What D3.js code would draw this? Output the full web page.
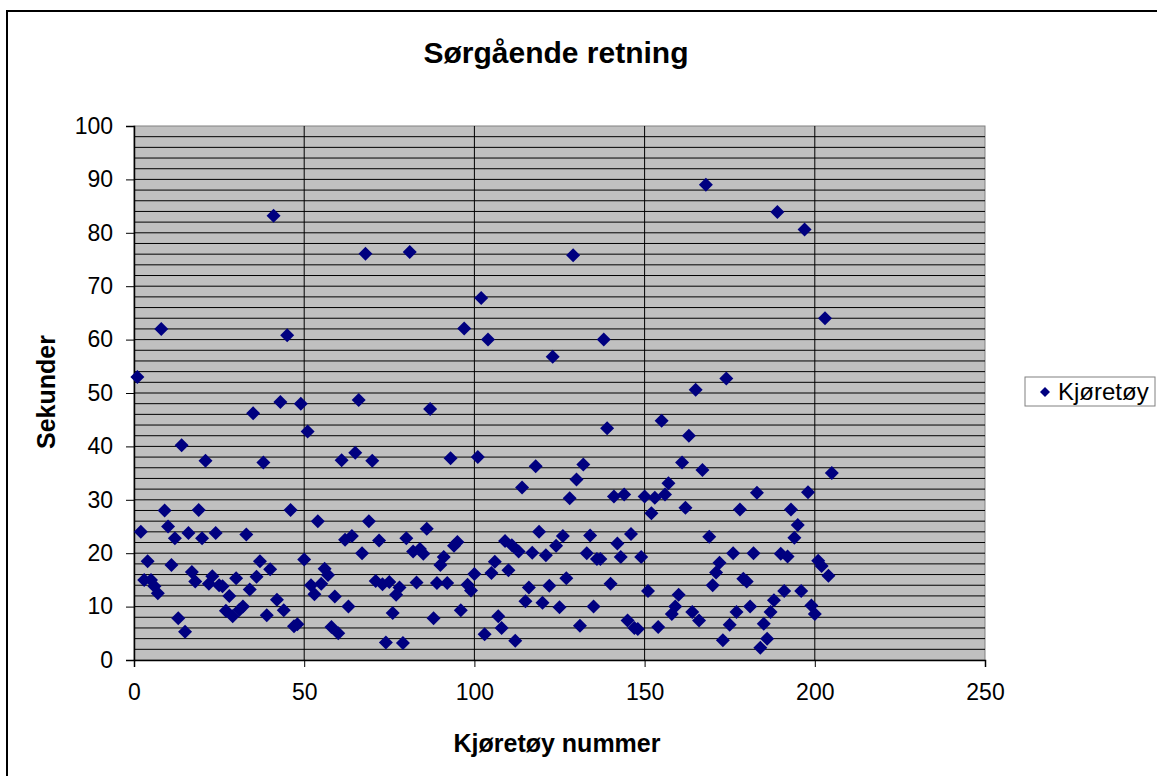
<!DOCTYPE html>
<html>
<head>
<meta charset="utf-8">
<script src="https://cdn.jsdelivr.net/npm/d3@7"></script>
<style>
  body { margin: 0; background: #fff; }
  text { font-family: Arial, "Liberation Sans", sans-serif; }
</style>
</head>
<body>
<div class="canvas"></div>
<script>
// seconds per vehicle, vehicle number = position in list (1..205)
const sekunder = [
  53, 24, 15, 18.5, 15, 13.8, 12.5, 62, 28, 25,
  17.8, 22.8, 7.8, 40.2, 5.3, 23.8, 16.5, 14.7, 28.1, 22.8,
  37.3, 14.3, 15.7, 23.8, 14, 13.8, 9.2, 12, 8.2, 15.3,
  9.4, 10, 23.5, 13.2, 46.2, 15.6, 18.5, 37, 8.4, 17,
  83.2, 11.3, 48.3, 9.3, 60.8, 28.1, 6.3, 6.7, 48, 18.8,
  42.8, 14, 12.3, 26, 14.3, 17.1, 15.9, 6.2, 11.9, 5,
  37.4, 22.5, 10, 23.2, 38.8, 48.7, 20, 76.1, 26, 37.3,
  14.8, 22.4, 14.2, 3.3, 14.6, 8.8, 12.2, 13.6, 3.2, 22.8,
  76.4, 20.3, 14.5, 20.8, 19.9, 24.6, 47, 7.8, 14.4, 17.8,
  19.3, 14.4, 37.8, 21.4, 22.1, 9.3, 62.1, 14.1, 13, 16.1,
  38, 67.8, 4.8, 60, 16.3, 18.4, 8.2, 6, 22.3, 16.8,
  21.5, 3.6, 20.3, 32.3, 11, 13.6, 20.1, 36.3, 24, 10.7,
  19.6, 13.9, 56.8, 21.4, 9.9, 23.2, 15.3, 30.3, 75.8, 33.8,
  6.4, 36.6, 20, 23.3, 10, 18.9, 18.9, 60, 43.4, 14.3,
  30.6, 21.8, 19.3, 31, 7.4, 23.6, 6, 5.8, 19.3, 30.6,
  12.9, 27.5, 30.4, 6.2, 44.8, 31, 33.1, 8.6, 10, 12.2,
  37, 28.5, 42, 9, 50.6, 7.4, 35.6, 89, 23.1, 14,
  16.4, 18.2, 3.7, 52.7, 6.6, 20, 9, 28.2, 15.2, 14.7,
  10, 20, 31.3, 2.3, 6.8, 4, 9, 11.2, 83.9, 19.9,
  12.9, 19.4, 28.2, 22.9, 25.3, 12.9, 80.6, 31.4, 10.2, 8.6,
  18.6, 17.6, 64, 15.8, 35
];
const xTicks = [0, 50, 100, 150, 200, 250];
const yTicks = [0, 10, 20, 30, 40, 50, 60, 70, 80, 90, 100];
const yMinor = d3.range(0, 101, 2);

const data = sekunder.map((v, i) => ({ nr: i + 1, sek: v }));

const W = 1157, H = 776;
const svg = d3.select('.canvas')
  .append('svg')
  .attr('width', W)
  .attr('height', H);

// chart border (right/bottom edges fall outside the picture)
svg.append('rect')
  .attr('x', 7).attr('y', 11)
  .attr('width', 1170).attr('height', 790)
  .attr('fill', 'none')
  .attr('stroke', '#000')
  .attr('stroke-width', 2);

const x = d3.scaleLinear().domain([0, 250]).range([134, 985]);
const y = d3.scaleLinear().domain([0, 100]).range([660, 126]);

// plot area
svg.append('rect')
  .attr('x', x(0)).attr('y', y(100))
  .attr('width', x(250) - x(0)).attr('height', y(0) - y(100))
  .attr('fill', '#c0c0c0')
  .attr('stroke', '#808080')
  .attr('stroke-width', 1);

// horizontal gridlines
svg.append('g')
  .selectAll('line')
  .data(yMinor.filter(d => d > 0 && d < 100))
  .enter().append('line')
  .attr('x1', x(0)).attr('x2', x(250))
  .attr('y1', d => y(d)).attr('y2', d => y(d))
  .attr('stroke', '#000')
  .attr('stroke-width', 1);

// vertical gridlines
svg.append('g')
  .selectAll('line')
  .data(xTicks.filter(d => d > 0 && d < 250))
  .enter().append('line')
  .attr('x1', d => x(d)).attr('x2', d => x(d))
  .attr('y1', y(0)).attr('y2', y(100))
  .attr('stroke', '#000')
  .attr('stroke-width', 1);

// axes
const yAxis = svg.append('g')
  .attr('transform', `translate(${x(0)},0)`)
  .call(d3.axisLeft(y).tickValues(yTicks).tickSize(8).tickPadding(13));
const xAxis = svg.append('g')
  .attr('transform', `translate(0,${y(0)})`)
  .call(d3.axisBottom(x).tickValues(xTicks).tickSize(7).tickPadding(17));

[yAxis, xAxis].forEach(g => {
  g.select('.domain').attr('stroke', '#000').attr('stroke-width', 1.5);
  g.selectAll('.tick line').attr('stroke', '#000');
  g.selectAll('.tick text')
    .attr('font-size', 23)
    .attr('fill', '#000')
    .style('font-family', 'Arial, "Liberation Sans", sans-serif');
});

// points
const diamond = 'M0,-7L7,0L0,7L-7,0Z';
svg.append('g')
  .selectAll('path')
  .data(data)
  .enter().append('path')
  .attr('d', diamond)
  .attr('transform', d => `translate(${x(d.nr)},${y(d.sek)})`)
  .attr('fill', '#000080');

// titles
svg.append('text')
  .attr('x', 556).attr('y', 63)
  .attr('text-anchor', 'middle')
  .attr('font-size', 30)
  .attr('font-weight', 'bold')
  .text('Sørgående retning');

svg.append('text')
  .attr('x', 557).attr('y', 752)
  .attr('text-anchor', 'middle')
  .attr('font-size', 25)
  .attr('font-weight', 'bold')
  .text('Kjøretøy nummer');

svg.append('text')
  .attr('transform', 'translate(55,392) rotate(-90)')
  .attr('text-anchor', 'middle')
  .attr('font-size', 25)
  .attr('font-weight', 'bold')
  .text('Sekunder');

// legend
const lg = svg.append('g').attr('transform', 'translate(1025,377)');
lg.append('rect')
  .attr('width', 130).attr('height', 29)
  .attr('fill', '#fff')
  .attr('stroke', '#808080');
lg.append('path')
  .attr('d', 'M0,-5L5,0L0,5L-5,0Z')
  .attr('transform', 'translate(20,15)')
  .attr('fill', '#000080');
lg.append('text')
  .attr('x', 33).attr('y', 23)
  .attr('font-size', 24)
  .text('Kjøretøy');
</script>
</body>
</html>
